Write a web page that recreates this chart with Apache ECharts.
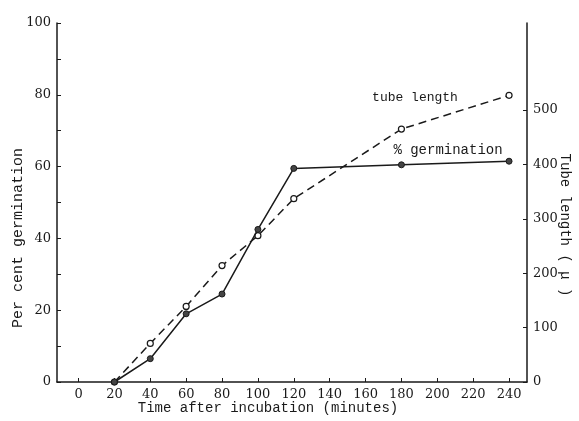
<!DOCTYPE html>
<html>
<head>
<meta charset="utf-8">
<script src="https://cdn.jsdelivr.net/npm/echarts@6/dist/echarts.min.js"></script>
<style>html,body{margin:0;padding:0;background:#fff;}#c{width:579px;height:421px;}</style>
</head>
<body>
<div id="c"></div>
<script>
var times = [20, 40, 60, 80, 100, 120, 180, 240];
var germination = [0, 6.5, 19, 24.5, 42.5, 59.5, 60.5, 61.5];
var tubeLength = [0, 71, 139, 214, 269, 337, 465, 527];
var xTicks = [0, 20, 40, 60, 80, 100, 120, 140, 160, 180, 200, 220, 240];
var leftTicks = [0, 20, 40, 60, 80, 100];
var leftMinor = [10, 30, 50, 70, 90];
var rightTicks = [0, 100, 200, 300, 400, 500];

var chart = echarts.init(document.getElementById('c'), null, {renderer: 'canvas'});
var ink = '#1a1a1a';
var serif = 'DejaVu Serif, Liberation Serif, serif';
var mono = '"Liberation Mono", "DejaVu Sans Mono", monospace';
function pairs(xs, ys){ return xs.map(function(x,i){ return [x, ys[i]]; }); }

chart.setOption({
  animation: false,
  backgroundColor: '#fff',
  grid: {left: 57, right: 52, top: 23, bottom: 39},
  xAxis: {
    type: 'value', min: -12, max: 250,
    axisLine: {show: true, onZero: false, lineStyle: {color: ink, width: 1.5}},
    axisTick: {show: true, inside: true, length: 4, customValues: xTicks, lineStyle: {color: ink}},
    axisLabel: {customValues: xTicks, color: ink, fontFamily: serif, fontSize: 13, margin: 6},
    splitLine: {show: false}
  },
  yAxis: [{
    type: 'value', min: 0, max: 100, position: 'left',
    axisLine: {show: true, onZero: false, lineStyle: {color: ink, width: 1.5}},
    axisTick: {show: true, inside: true, length: 4, customValues: leftTicks.concat(leftMinor), lineStyle: {color: ink}},
    axisLabel: {customValues: leftTicks, color: ink, fontFamily: serif, fontSize: 13, margin: 6},
    splitLine: {show: false}
  }, {
    type: 'value', min: 0, max: 660, position: 'right',
    axisLine: {show: true, onZero: false, lineStyle: {color: ink, width: 1.5}},
    axisTick: {show: true, inside: true, length: 4, customValues: rightTicks, lineStyle: {color: ink}},
    axisLabel: {customValues: rightTicks, color: ink, fontFamily: serif, fontSize: 13, margin: 6},
    splitLine: {show: false}
  }],
  series: [{
    name: '% germination', type: 'line', yAxisIndex: 0,
    data: pairs(times, germination),
    symbol: 'circle', symbolSize: 6,
    lineStyle: {color: ink, width: 1.5},
    itemStyle: {color: '#444', borderColor: ink, borderWidth: 1},
    z: 3
  }, {
    name: 'tube length', type: 'line', yAxisIndex: 1,
    data: pairs(times, tubeLength),
    symbol: 'circle', symbolSize: 6,
    lineStyle: {color: ink, width: 1.5, type: [8, 5]},
    itemStyle: {color: '#fff', borderColor: ink, borderWidth: 1.2},
    z: 2
  }],
  graphic: [
    {type: 'text', x: 268, y: 408, style: {text: 'Time after incubation (minutes)', font: '14px ' + mono, fill: ink, textAlign: 'center', textVerticalAlign: 'middle'}},
    {type: 'text', x: 18, y: 238, rotation: Math.PI/2, style: {text: 'Per cent germination', font: '15px ' + mono, fill: ink, textAlign: 'center', textVerticalAlign: 'middle'}},
    {type: 'text', x: 565, y: 225, rotation: -Math.PI/2, style: {text: 'Tube length ( \u03bc )', font: '14px ' + mono, fill: ink, textAlign: 'center', textVerticalAlign: 'middle'}},
    {type: 'text', x: 415, y: 98, style: {text: 'tube length', font: '13px ' + mono, fill: ink, textAlign: 'center', textVerticalAlign: 'middle'}},
    {type: 'text', x: 448, y: 150, style: {text: '% germination', font: '14px ' + mono, fill: ink, textAlign: 'center', textVerticalAlign: 'middle'}}
  ]
});
</script>
</body>
</html>
